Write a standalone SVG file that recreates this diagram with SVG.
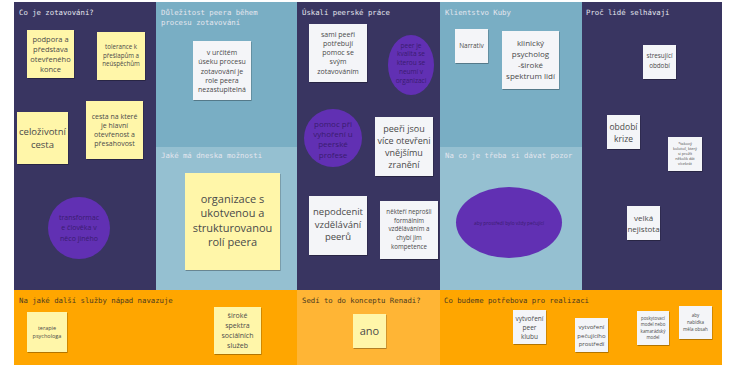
<svg xmlns="http://www.w3.org/2000/svg" width="729" height="365" viewBox="0 0 729 365">
<style>
.dark{fill:#393561}
.blue{fill:#79aec4}
.lblue{fill:#95c0d1}
.orange{fill:#ffa600}
.lorange{fill:#ffb535}
.hd{font-family:"DejaVu Sans Mono","Liberation Mono",monospace;font-size:7.3px;fill:#e4e6ef}
.hdo{font-family:"DejaVu Sans Mono","Liberation Mono",monospace;font-size:7.3px;fill:#4a3a20}
.yel{fill:#fff6a9;filter:url(#sh)}
.wht{fill:#f4f5f8;filter:url(#sh)}
.pur{fill:#6130b3}
.t{font-family:"Open Sans","Noto Sans",sans-serif;fill:#4a4a4a;text-anchor:middle}
.tp{font-family:"Open Sans","Noto Sans",sans-serif;fill:#3a1c70;text-anchor:middle}
</style>
<defs>
<filter id="sh" x="-10%" y="-10%" width="130%" height="130%">
<feDropShadow dx="0.6" dy="1" stdDeviation="0.6" flood-color="#000" flood-opacity="0.3"/>
</filter>
</defs>
<rect width="729" height="365" fill="#ffffff"/>
<!-- panels -->
<rect class="dark" x="14" y="2" width="142" height="288"/>
<rect class="blue" x="156" y="2" width="141" height="145"/>
<rect class="lblue" x="156" y="147" width="141" height="143"/>
<rect class="dark" x="297" y="2" width="143" height="288"/>
<rect class="blue" x="440" y="2" width="142" height="145"/>
<rect class="lblue" x="440" y="147" width="142" height="143"/>
<rect class="dark" x="582" y="2" width="140" height="288"/>
<rect class="orange" x="14" y="290" width="283" height="75"/>
<rect class="lorange" x="297" y="290" width="143" height="75"/>
<rect class="orange" x="440" y="290" width="282" height="75"/>
<!-- headers -->
<text class="hd" x="19" y="15">Co je zotavování?</text>
<text class="hd" x="161" y="15">Důležitost peera během</text>
<text class="hd" x="161" y="25">procesu zotavování</text>
<text class="hd" x="161" y="158">Jaké má dneska možnosti</text>
<text class="hd" x="302" y="15">Úskalí peerské práce</text>
<text class="hd" x="445" y="15">Klientstvo Kuby</text>
<text class="hd" x="445" y="158">Na co je třeba si dávat pozor</text>
<text class="hd" x="586" y="15">Proč lidé selhávají</text>
<text class="hdo" x="19" y="303">Na jaké další služby nápad navazuje</text>
<text class="hdo" x="302" y="303">Sedí to do konceptu Renadi?</text>
<text class="hdo" x="444" y="303">Co budeme potřebova pro realizaci</text>

<g id="n-podpora">
<rect class="yel" x="27" y="30" width="47" height="48"/>
<text class="t" font-size="7.5" x="50.5" y="42">podpora a</text>
<text class="t" font-size="7.5" x="50.5" y="52">představa</text>
<text class="t" font-size="7.5" x="50.5" y="62">otevřeného</text>
<text class="t" font-size="7.5" x="50.5" y="72">konce</text>
</g>
<g id="n-tolerance">
<rect class="yel" x="97" y="32" width="48" height="48"/>
<text class="t" font-size="6.2" x="121" y="49">tolerance k</text>
<text class="t" font-size="6.2" x="121" y="57.5">přešlapům a</text>
<text class="t" font-size="6.2" x="121" y="66">neúspěchům</text>
</g>
<g id="n-celozivotni">
<rect class="yel" x="17" y="112" width="51" height="52"/>
<text class="t" font-size="9.5" x="42.5" y="135">celoživotní</text>
<text class="t" font-size="9.5" x="42.5" y="147.5">cesta</text>
</g>
<g id="n-cesta">
<rect class="yel" x="86" y="101" width="57" height="58"/>
<text class="t" font-size="7" x="114.5" y="118.5">cesta na které</text>
<text class="t" font-size="7" x="114.5" y="127.5">je hlavní</text>
<text class="t" font-size="7" x="114.5" y="136.5">otevřenost a</text>
<text class="t" font-size="7" x="114.5" y="145.5">přesahovost</text>
</g>
<g id="n-transformace">
<circle class="pur" cx="79" cy="228" r="31"/>
<text class="tp" font-size="7" x="79" y="219.5">transformac</text>
<text class="tp" font-size="7" x="79" y="230">e člověka v</text>
<text class="tp" font-size="7" x="79" y="240.5">něco jiného</text>
</g>
<g id="n-urcitem">
<rect class="wht" x="193" y="41" width="58" height="59"/>
<text class="t" font-size="7" x="222" y="54.5">v určitém</text>
<text class="t" font-size="7" x="222" y="64">úseku procesu</text>
<text class="t" font-size="7" x="222" y="73.5">zotavování je</text>
<text class="t" font-size="7" x="222" y="82.5">role peera</text>
<text class="t" font-size="7" x="222" y="91.5">nezastupitelná</text>
</g>
<g id="n-organizace">
<rect class="yel" x="185" y="173" width="95" height="97"/>
<text class="t" font-size="11" x="232.5" y="202.5">organizace s</text>
<text class="t" font-size="11" x="232.5" y="217">ukotvenou a</text>
<text class="t" font-size="11" x="232.5" y="231.5">strukturovanou</text>
<text class="t" font-size="11" x="232.5" y="246">rolí peera</text>
</g>
<g id="n-sami">
<rect class="wht" x="309" y="24" width="58" height="58"/>
<text class="t" font-size="7" x="338" y="36.5">sami peeři</text>
<text class="t" font-size="7" x="338" y="45.5">potřebují</text>
<text class="t" font-size="7" x="338" y="54.5">pomoc se</text>
<text class="t" font-size="7" x="338" y="64">svým</text>
<text class="t" font-size="7" x="338" y="73.5">zotavováním</text>
</g>
<g id="n-kvalita">
<ellipse class="pur" cx="411" cy="65" rx="23" ry="30"/>
<text class="tp" font-size="6.5" x="411" y="47.5">peer je</text>
<text class="tp" font-size="6.5" x="411" y="56">kvalita se</text>
<text class="tp" font-size="6.5" x="411" y="64.5">kterou se</text>
<text class="tp" font-size="6.5" x="411" y="73.5">neumí v</text>
<text class="tp" font-size="6.5" x="411" y="82.5">organizaci</text>
</g>
<g id="n-pomoc">
<circle class="pur" cx="333" cy="138" r="29"/>
<text class="tp" font-size="8" x="333" y="127">pomoc při</text>
<text class="tp" font-size="8" x="333" y="137">vyhoření u</text>
<text class="tp" font-size="8" x="333" y="147">peerské</text>
<text class="tp" font-size="8" x="333" y="157.5">profese</text>
</g>
<g id="n-otevreni">
<rect class="wht" x="375" y="117" width="58" height="59"/>
<text class="t" font-size="9" x="404" y="131.5">peeři jsou</text>
<text class="t" font-size="9" x="404" y="143.5">více otevřeni</text>
<text class="t" font-size="9" x="404" y="155.5">vnějšímu</text>
<text class="t" font-size="9" x="404" y="167.5">zranění</text>
</g>
<g id="n-nepodcenit">
<rect class="wht" x="309" y="196" width="58" height="59"/>
<text class="t" font-size="9.5" x="338" y="215">nepodcenit</text>
<text class="t" font-size="9.5" x="338" y="227.5">vzdělávání</text>
<text class="t" font-size="9.5" x="338" y="240">peerů</text>
</g>
<g id="n-nektere">
<rect class="wht" x="380" y="201" width="58" height="58"/>
<text class="t" font-size="6.2" x="409" y="214">někteří neprošli</text>
<text class="t" font-size="6.2" x="409" y="222.5">formálním</text>
<text class="t" font-size="6.2" x="409" y="231">vzděláváním a</text>
<text class="t" font-size="6.2" x="409" y="240">chybí jim</text>
<text class="t" font-size="6.2" x="409" y="249">kompetence</text>
</g>
<g id="n-narrativ">
<rect class="wht" x="455" y="29" width="33" height="34"/>
<text class="t" font-size="6.5" x="471.5" y="48">Narrativ</text>
</g>
<g id="n-klinicky">
<rect class="wht" x="502" y="31" width="57" height="58"/>
<text class="t" font-size="8" x="530.5" y="46">klinický</text>
<text class="t" font-size="8" x="530.5" y="57">psycholog</text>
<text class="t" font-size="8" x="530.5" y="67.5">-široké</text>
<text class="t" font-size="8" x="530.5" y="78.5">spektrum lidí</text>
</g>
<g id="n-prostredi">
<ellipse class="pur" cx="509" cy="222.5" rx="53" ry="35.5"/>
<text class="tp" font-size="4.8" x="509" y="224.5">aby prostředí bylo vždy pečující</text>
</g>
<g id="n-stresujici">
<rect class="wht" x="643" y="45" width="33" height="34"/>
<text class="t" font-size="6.3" x="659.5" y="58">stresující</text>
<text class="t" font-size="6.3" x="659.5" y="68">období</text>
</g>
<g id="n-krize">
<rect class="wht" x="607" y="115" width="33" height="34"/>
<text class="t" font-size="8.5" x="623.5" y="130">období</text>
<text class="t" font-size="8.5" x="623.5" y="141.5">krize</text>
</g>
<g id="n-kolotoc">
<rect class="wht" x="668" y="137" width="34" height="34"/>
<text class="t" font-size="3.8" x="685" y="144.5">*takový</text>
<text class="t" font-size="3.8" x="685" y="149.5">kolotoč, který</text>
<text class="t" font-size="3.8" x="685" y="154.5">si prožít</text>
<text class="t" font-size="3.8" x="685" y="159.5">několik dát</text>
<text class="t" font-size="3.8" x="685" y="165">vícekrát</text>
</g>
<g id="n-nejistota">
<rect class="wht" x="627" y="206" width="33" height="34"/>
<text class="t" font-size="8" x="643.5" y="221">velká</text>
<text class="t" font-size="8" x="643.5" y="231.5">nejistota</text>
</g>
<g id="n-terapie">
<rect class="yel" x="27" y="312" width="40" height="40"/>
<text class="t" font-size="5.5" x="47" y="330">terapie</text>
<text class="t" font-size="5.5" x="47" y="337.5">psychologa</text>
</g>
<g id="n-siroke">
<rect class="yel" x="214" y="307" width="47" height="47"/>
<text class="t" font-size="7" x="237.5" y="317.5">široké</text>
<text class="t" font-size="7" x="237.5" y="327.5">spektra</text>
<text class="t" font-size="7" x="237.5" y="337.5">sociálních</text>
<text class="t" font-size="7" x="237.5" y="347.5">služeb</text>
</g>
<g id="n-ano">
<rect class="yel" x="353" y="314" width="33" height="34"/>
<text class="t" font-size="11" x="369.5" y="335">ano</text>
</g>
<g id="n-klub">
<rect class="wht" x="513" y="310" width="33" height="34"/>
<text class="t" font-size="6.5" x="529.5" y="320.5">vytvoření</text>
<text class="t" font-size="6.5" x="529.5" y="329.5">peer</text>
<text class="t" font-size="6.5" x="529.5" y="338.5">klubu</text>
</g>
<g id="n-pecujici">
<rect class="wht" x="575" y="318" width="33" height="34"/>
<text class="t" font-size="6" x="591.5" y="329">vytvoření</text>
<text class="t" font-size="6" x="591.5" y="337.5">pečujícího</text>
<text class="t" font-size="6" x="591.5" y="346">prostředí</text>
</g>
<g id="n-model">
<rect class="wht" x="637" y="311" width="32" height="34"/>
<text class="t" font-size="4.4" x="653" y="319.5">poskytovací</text>
<text class="t" font-size="4.4" x="653" y="325.5">model nebo</text>
<text class="t" font-size="4.4" x="653" y="333">kamarádský</text>
<text class="t" font-size="4.4" x="653" y="339">model</text>
</g>
<g id="n-obsah">
<rect class="wht" x="679" y="306" width="33" height="33"/>
<text class="t" font-size="4.6" x="695.5" y="316.5">aby</text>
<text class="t" font-size="4.6" x="695.5" y="323.5">nabídka</text>
<text class="t" font-size="4.6" x="695.5" y="330.5">měla obsah</text>
</g>
<g id="connectors"></g>
</svg>
